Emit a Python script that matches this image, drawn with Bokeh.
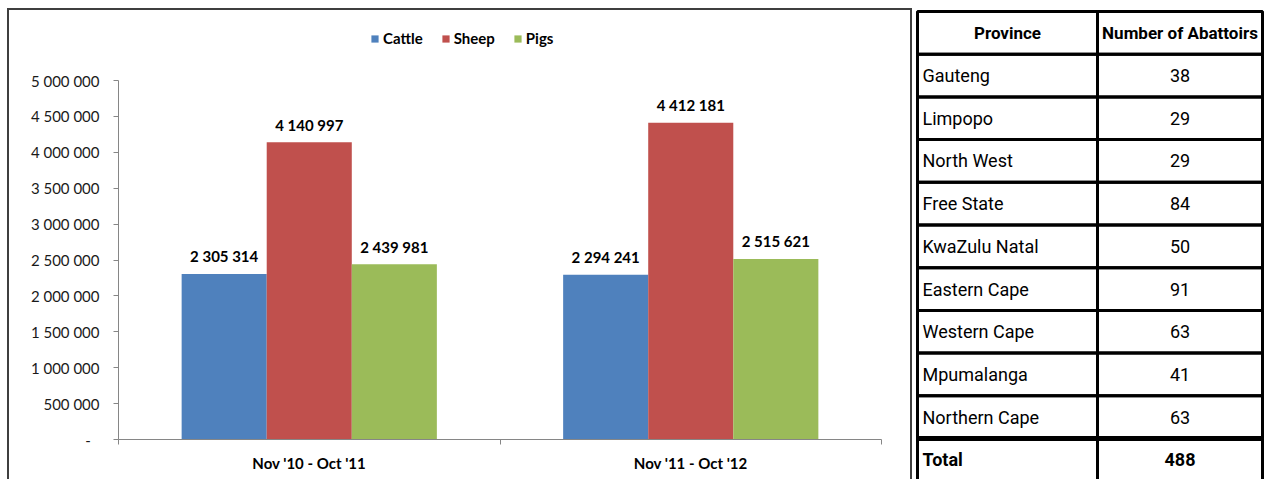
from bokeh.plotting import figure
from bokeh.models import (Range1d, FixedTicker, LinearAxis, Legend, LegendItem,
                          ColumnDataSource, InlineStyleSheet)
from bokeh.transform import dodge
from bokeh.layouts import row, column
from bokeh.core.properties import value
from bokeh.embed import file_html
from bokeh.resources import INLINE

# ---- chart data: slaughter numbers per period ----
periods = ["Nov '10 - Oct '11", "Nov '11 - Oct '12"]
species = ["Cattle", "Sheep", "Pigs"]
cattle = [2305314, 2294241]
sheep = [4140997, 4412181]
pigs = [2439981, 2515621]
y_ticks = [0, 500000, 1000000, 1500000, 2000000, 2500000,
           3000000, 3500000, 4000000, 4500000, 5000000]
y_tick_labels = ["-\u2007", "500 000", "1 000 000", "1 500 000", "2 000 000",
                 "2 500 000", "3 000 000", "3 500 000", "4 000 000",
                 "4 500 000", "5 000 000"]

# ---- table data: abattoirs per province ----
table_headers = ["Province", "Number of Abattoirs"]
provinces = ["Gauteng", "Limpopo", "North West", "Free State", "KwaZulu Natal",
             "Eastern Cape", "Western Cape", "Mpumalanga", "Northern Cape"]
abattoirs = [38, 29, 29, 84, 50, 91, 63, 41, 63]
total_label = "Total"

COLORS = ["#4F81BD", "#C0504D", "#9BBB59"]
AXIS_GREY = "#868686"
FRAME_COLOR = "#3f3f3f"
FONT = "Lato"
TABLE_FONT = "Roboto"


def spaced(v):
    return "{:,}".format(v).replace(",", " ")


def frame_css(top, height, sides):
    borders = "".join(f"border-{s}: 2px solid {FRAME_COLOR};" for s in sides)
    return InlineStyleSheet(css=f"""
:host::after {{
  content: "";
  position: absolute;
  left: 7px; top: {top}px; width: 905px; height: {height}px;
  box-sizing: border-box;
  {borders}
  pointer-events: none;
}}
""")


W, H = 1266, 479
CW = 914
LEG_H = 60

# shared source for the bars, their labels and the legend swatches
x_centers = [i + 0.5 for i in range(len(periods))]
series = [cattle, sheep, pigs]
data = dict(x=x_centers)
for name, vals in zip(species, series):
    data[name] = vals
    data[name + "_label"] = [spaced(v) for v in vals]
src = ColumnDataSource(data)

# ---------------- legend strip ----------------
leg = figure(width=CW, height=LEG_H, output_backend="svg", toolbar_location=None,
             x_range=Range1d(0, CW), y_range=Range1d(0, LEG_H),
             x_axis_type=None, y_axis_type=None,
             min_border=0, min_border_left=0, min_border_right=0,
             min_border_top=0, min_border_bottom=0)
leg.frame_align = False
leg.outline_line_color = None
leg.border_fill_color = "white"
leg.stylesheets = [frame_css(8, LEG_H - 8, ["top", "left", "right"])]

leg_renderers = []
for name, color in zip(species, COLORS):
    r = leg.vbar(x="x", top=name, width=0.2, source=src,
                 fill_color=color, line_color=None)
    r.visible = False          # only used for the legend swatches
    leg_renderers.append(r)
legend = Legend(items=[LegendItem(label=n, renderers=[r])
                       for n, r in zip(species, leg_renderers)],
                orientation="horizontal", location=(370, 13),
                glyph_width=9, glyph_height=9, label_standoff=4, spacing=18,
                padding=0, margin=0, border_line_color=None,
                background_fill_alpha=0, inactive_fill_alpha=0,
                label_text_font=FONT, label_text_font_style="bold",
                label_text_font_size="15px", label_text_color="black")
leg.add_layout(legend)

# ---------------- bar chart ----------------
PH = H - LEG_H
p = figure(width=CW, height=PH, output_backend="svg", toolbar_location=None,
           x_range=Range1d(0, len(periods)), y_range=Range1d(0, y_ticks[-1]),
           x_axis_type=None, y_axis_type=None,
           min_border_left=118, min_border_right=CW - 881,
           min_border_top=80 - LEG_H, min_border_bottom=40)
p.frame_align = False
p.outline_line_color = None
p.background_fill_color = "white"
p.border_fill_color = "white"
p.stylesheets = [frame_css(0, PH, ["left", "right"])]

bar_w = 0.223
for k, (name, color) in enumerate(zip(species, COLORS)):
    off = (k - 1) * bar_w
    p.vbar(x=dodge("x", off), top=name, width=bar_w, source=src,
           fill_color=color, line_color=None)
    p.text(x=dodge("x", off), y=name, text=name + "_label", source=src,
           text_align="center", text_baseline="middle", y_offset=-17.5,
           text_font=value(FONT), text_font_style="bold",
           text_font_size="15px", text_color="black")

yaxis = LinearAxis(ticker=FixedTicker(ticks=y_ticks, minor_ticks=[]),
                   major_label_overrides=dict(zip(y_ticks, y_tick_labels)))
yaxis.axis_line_color = AXIS_GREY
yaxis.major_tick_line_color = AXIS_GREY
yaxis.major_tick_out = 5
yaxis.major_tick_in = 0
yaxis.minor_tick_line_color = None
yaxis.major_label_standoff = 14
yaxis.major_label_text_font = FONT
yaxis.major_label_text_font_size = "15px"
yaxis.major_label_text_color = "#1a1a1a"
p.add_layout(yaxis, "left")

xaxis = LinearAxis(ticker=FixedTicker(ticks=x_centers,
                                      minor_ticks=list(range(len(periods) + 1))),
                   major_label_overrides=dict(zip(x_centers, periods)))
xaxis.axis_line_color = AXIS_GREY
xaxis.major_tick_line_color = None
xaxis.major_tick_out = 0
xaxis.major_tick_in = 0
xaxis.minor_tick_line_color = AXIS_GREY
xaxis.minor_tick_out = 5
xaxis.minor_tick_in = 0
xaxis.major_label_standoff = 9
xaxis.major_label_text_font = FONT
xaxis.major_label_text_font_style = "bold"
xaxis.major_label_text_font_size = "15px"
xaxis.major_label_text_color = "black"
p.add_layout(xaxis, "below")

# ---------------- province table ----------------
TW = W - CW
TOP_PX, ROW_PX = 11, 42.7
col_edges = [3, 183, 348]
t = figure(width=TW, height=H, output_backend="svg", toolbar_location=None,
           x_range=Range1d(0, TW),
           y_range=Range1d((H - TOP_PX) / ROW_PX, -TOP_PX / ROW_PX),
           x_axis_type=None, y_axis_type=None,
           min_border=0, min_border_left=0, min_border_right=0,
           min_border_top=0, min_border_bottom=0)
t.frame_align = False
t.outline_line_color = None
t.background_fill_color = "white"
t.border_fill_color = "white"

n_rows = len(provinces) + 2
cell = dict(left=[], right=[], top=[], bottom=[])
for i in range(n_rows):
    for j in range(2):
        cell["left"].append(col_edges[j])
        cell["right"].append(col_edges[j + 1])
        cell["top"].append(i)
        cell["bottom"].append(i + 1)
t.quad(source=ColumnDataSource(cell), fill_color=None,
       line_color="black", line_width=3)
# heavy rule above the total row
t.segment(x0=[col_edges[0]], x1=[col_edges[-1]], y0=[n_rows - 1],
          y1=[n_rows - 1], line_color="black", line_width=5)

col2_mid = (col_edges[1] + col_edges[2]) / 2
col1_mid = (col_edges[0] + col_edges[1]) / 2

t.text(x=[col1_mid, col2_mid], y=[0.5, 0.5], text=table_headers,
       text_align="center", text_baseline="middle",
       text_font=value(TABLE_FONT), text_font_style="bold",
       text_font_size="17px", text_color="black")

body_y = [i + 1.5 for i in range(len(provinces))]
t.text(x=[col_edges[0] + 5] * len(provinces), y=body_y, text=provinces,
       text_align="left", text_baseline="middle",
       text_font=value(TABLE_FONT), text_font_size="18px", text_color="black")
t.text(x=[col2_mid] * len(provinces), y=body_y,
       text=[str(v) for v in abattoirs],
       text_align="center", text_baseline="middle",
       text_font=value(TABLE_FONT), text_font_size="18px", text_color="black")

total_y = n_rows - 0.5
t.text(x=[col_edges[0] + 5], y=[total_y], text=[total_label],
       text_align="left", text_baseline="middle",
       text_font=value(TABLE_FONT), text_font_style="bold",
       text_font_size="18px", text_color="black")
t.text(x=[col2_mid], y=[total_y], text=[str(sum(abattoirs))],
       text_align="center", text_baseline="middle",
       text_font=value(TABLE_FONT), text_font_style="bold",
       text_font_size="18px", text_color="black")

layout = row(column(leg, p, spacing=0), t, spacing=0)
open("out.html", "w").write(file_html(layout, INLINE))
